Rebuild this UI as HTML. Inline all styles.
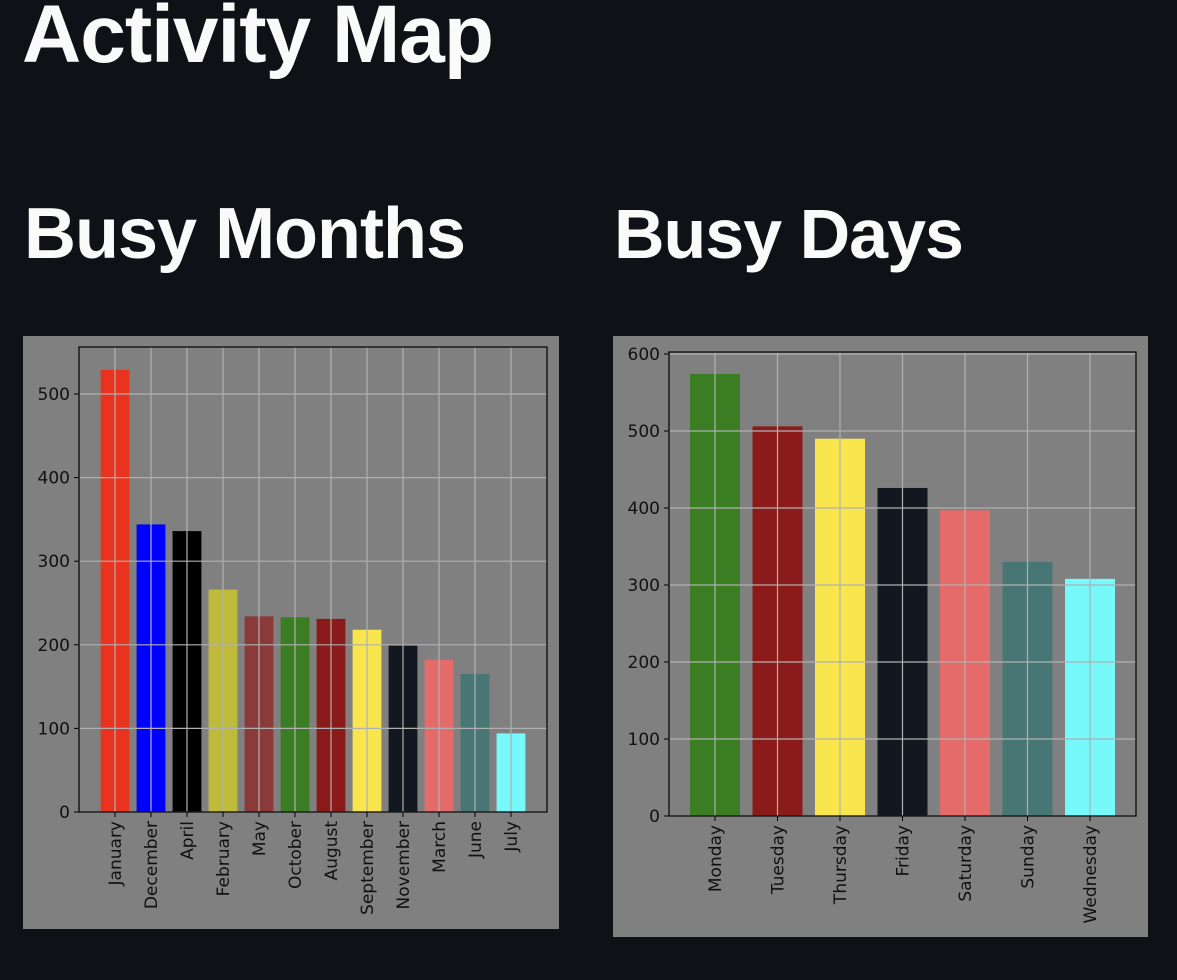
<!DOCTYPE html>
<html><head><meta charset="utf-8"><style>
html,body{margin:0;padding:0;background:#0f1117;width:1177px;height:980px;overflow:hidden;font-family:"Liberation Sans",sans-serif;}
h1,h2{margin:0;position:absolute;color:#fafafa;font-weight:bold;letter-spacing:-1px}
svg text{font-family:"DejaVu Sans",sans-serif;font-size:17px;fill:#111}
</style></head><body>
<h1 style="left:22px;top:-12px;font-size:82px;">Activity Map</h1>
<h2 style="left:24px;top:193px;font-size:72px;">Busy Months</h2>
<h2 style="left:614px;top:194px;font-size:70px;">Busy Days</h2>
<svg id="c1" style="position:absolute;left:23px;top:336px" width="536" height="593"></svg>
<svg id="c2" style="position:absolute;left:613px;top:336px" width="535" height="601"></svg>
<script>
const monthCats=["January","December","April","February","May","October","August","September","November","March","June","July"];
const monthVals=[529,344,336,266,234,233,231,218,199,182,165,94];
const monthColors=["#e8341f","#0000ff","#000000","#bfbb3a","#8b3a3a","#3a7d22","#8b1a1a","#f9e64f","#111820","#e56b6b","#477674","#77f9fc"];
const monthTicks=[0,100,200,300,400,500];
const dayCats=["Monday","Tuesday","Thursday","Friday","Saturday","Sunday","Wednesday"];
const dayVals=[574,506,490,426,397,330,308];
const dayColors=["#3a7d22","#8b1a1a","#f9e64f","#111820","#e56b6b","#477674","#77f9fc"];
const dayTicks=[0,100,200,300,400,500,600];
const NS="http://www.w3.org/2000/svg";
function mk(p,t,a){const e=document.createElementNS(NS,t);for(const k in a)e.setAttribute(k,a[k]);p.appendChild(e);return e;}
function draw(svg,cats,vals,colors,ticks,o){
  mk(svg,"rect",{x:0,y:0,width:o.W,height:o.H,fill:"#808080"});
  const y=v=>o.y0-(v/o.ymax)*(o.y0-o.yt);
  const step=(o.xr-o.xl)/(cats.length-1);
  const x=i=>o.xl+i*step;
  const bw=step*0.8;
  cats.forEach((c,i)=>{
    const b=mk(svg,"rect",{x:x(i)-bw/2,y:y(vals[i]),width:bw,height:o.y0-y(vals[i]),fill:colors[i]});
    
    
  });
  ticks.forEach(t=>{
    mk(svg,"line",{x1:o.ax1,x2:o.ax2,y1:y(t),y2:y(t),stroke:"#b0b0b0","stroke-width":1.2});
    mk(svg,"line",{x1:o.ax1-5,x2:o.ax1,y1:y(t),y2:y(t),stroke:"#000"});
    const tx=mk(svg,"text",{x:o.ax1-9,y:y(t)+6,"text-anchor":"end"});tx.textContent=t;
    
    
  });
  cats.forEach((c,i)=>{
    mk(svg,"line",{x1:x(i),x2:x(i),y1:o.ay1,y2:o.y0,stroke:"#b0b0b0","stroke-width":1.2});
    mk(svg,"line",{x1:x(i),x2:x(i),y1:o.y0,y2:o.y0+5,stroke:"#000"});
    const tx=mk(svg,"text",{x:0,y:0,"text-anchor":"end",transform:`translate(${x(i)+6},${o.y0+9}) rotate(-90)`});tx.textContent=c;
    
    
  });
  mk(svg,"rect",{x:o.ax1,y:o.ay1,width:o.ax2-o.ax1,height:o.y0-o.ay1,fill:"none",stroke:"#000","stroke-width":1.2});
}
draw(document.getElementById("c1"),monthCats,monthVals,monthColors,monthTicks,
 {W:536,H:593,ax1:56,ax2:524,ay1:11,y0:476,yt:58,ymax:500,xl:92,xr:488});
draw(document.getElementById("c2"),dayCats,dayVals,dayColors,dayTicks,
 {W:535,H:601,ax1:56,ax2:523,ay1:16,y0:480,yt:18,ymax:600,xl:102,xr:477});
</script>
</body></html>
